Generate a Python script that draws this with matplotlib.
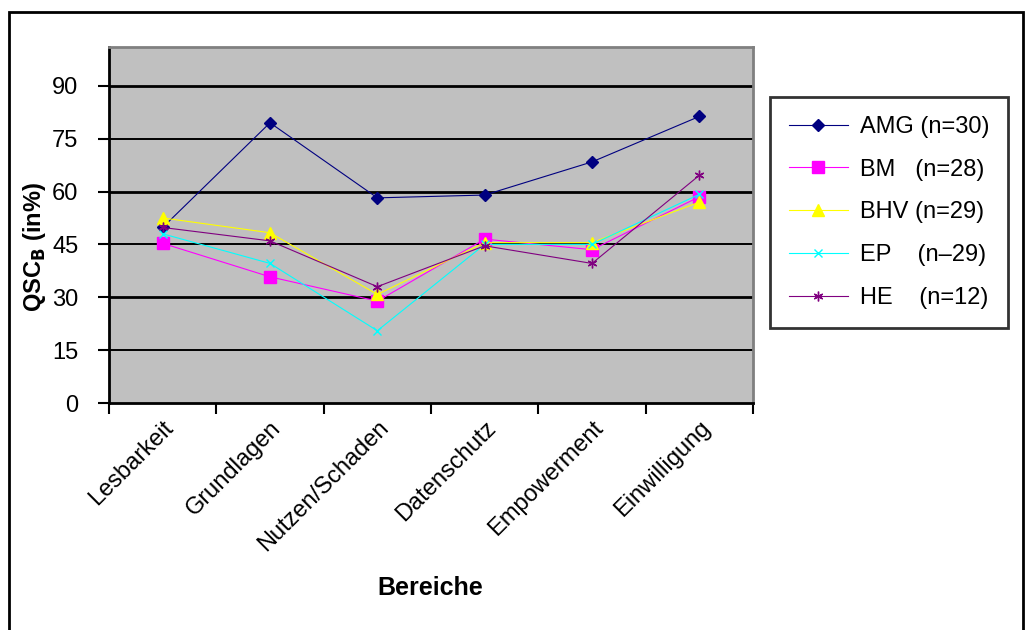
import matplotlib.pyplot as plt
from matplotlib.patches import Rectangle

#----------------------------------
# Data
bereiche = ['Lesbarkeit', 'Grundlagen', 'Nutzen/Schaden', 'Datenschutz', 'Empowerment', 'Einwilligung']
amg = [49.8, 79.5, 58.2, 59.0, 68.4, 81.3]
bm = [45.3, 35.8, 28.9, 46.5, 43.5, 58.5]
bhv = [52.5, 48.3, 30.8, 45.5, 45.5, 57.0]
ep = [48.0, 39.6, 20.5, 45.0, 45.0, 59.2]
he = [49.8, 46.0, 33.0, 44.6, 39.6, 64.6]
labels = ['AMG (n=30)', 'BM   (n=28)', 'BHV (n=29)', 'EP    (n\u201329)', 'HE    (n=12)']
yticks = [0, 15, 30, 45, 60, 75, 90]

plt.rcParams['font.family'] = ['Liberation Sans', 'DejaVu Sans']

fig = plt.figure(figsize=(10.26, 6.30), dpi=100)
ax = fig.add_axes([109 / 1026, 1 - 403 / 630, 644 / 1026, 356 / 630])
ax.set_facecolor('#c0c0c0')

# outer chart frame
fig.patches.append(Rectangle((9 / 1026, -0.05), 1014 / 1026, 1.05 - 12 / 630,
                             transform=fig.transFigure, fill=False,
                             edgecolor='black', linewidth=2))

x = list(range(len(bereiche)))
for yt in yticks[1:]:
    ax.axhline(yt, color='black', linewidth=2.0 if yt % 30 == 0 else 1.4, zorder=1)

ax.plot(x, amg, color='#000080', marker='D', markersize=6, linewidth=0.8, label=labels[0], zorder=3)
ax.plot(x, bm, color='#ff00ff', marker='s', markersize=8, linewidth=0.8, label=labels[1], zorder=3)
ax.plot(x, bhv, color='#ffff00', marker='^', markersize=8, linewidth=0.8, label=labels[2], zorder=3)
ax.plot(x, ep, color='#00ffff', marker='x', markersize=6, linewidth=0.8, label=labels[3], zorder=3)
ax.plot(x, he, color='#800080', marker=(6, 2, 0), markersize=7, linewidth=0.8, label=labels[4], zorder=3)

ax.set_xlim(-0.5, len(bereiche) - 0.5)
ax.set_ylim(0, 101)
ax.set_yticks(yticks)
ax.set_yticklabels([str(v) for v in yticks], fontsize=17)
ax.set_xticks([i - 0.5 for i in range(len(bereiche) + 1)])
ax.set_xticklabels([])
ax.set_xticks(x, minor=True)
ax.set_xticklabels(bereiche, minor=True, rotation=45, ha='right', va='top',
                   rotation_mode='anchor', fontsize=17)
ax.tick_params(axis='x', which='minor', length=0, pad=10)
ax.tick_params(axis='x', which='major', length=8, width=1.5, direction='out')
ax.tick_params(axis='y', length=8, width=1.5, direction='out', pad=14)

for side in ['left', 'bottom']:
    ax.spines[side].set_linewidth(2)
    ax.spines[side].set_color('black')
for side in ['top', 'right']:
    ax.spines[side].set_linewidth(2)
    ax.spines[side].set_color('#808080')

fig.text(34 / 1026, 1 - 247 / 630, 'QSC$_\\mathbf{B}$ (in%)', rotation=90, ha='center', va='center',
         fontsize=17, fontweight='bold')
fig.text(430 / 1026, 1 - 588 / 630, 'Bereiche', ha='center', va='center',
         fontsize=18, fontweight='bold')

leg = fig.legend(loc='upper left', bbox_to_anchor=(770 / 1026, 1 - 97 / 630),
                 fontsize=17, frameon=True, fancybox=False, handlelength=2.5,
                 labelspacing=0.88, borderpad=0.8, handletextpad=0.5, borderaxespad=0)
leg.get_frame().set_edgecolor('black')
leg.get_frame().set_linewidth(2)

fig.savefig('out.png', dpi=100)
